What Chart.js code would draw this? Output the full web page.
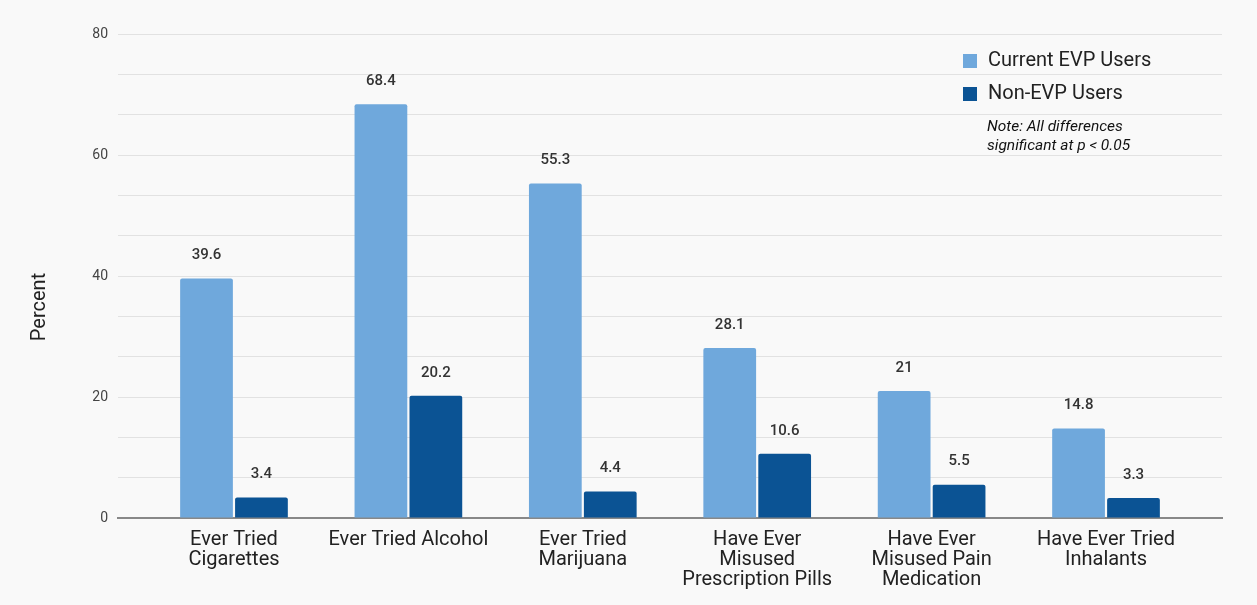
<!DOCTYPE html>
<html>
<head>
<meta charset="utf-8">
<script src="https://cdn.jsdelivr.net/npm/chart.js@4.4.1/dist/chart.umd.min.js"></script>
<style>
  html, body { margin: 0; padding: 0; background: #f9f9f9; }
  #wrap { width: 1257px; height: 605px; }
</style>
</head>
<body>
<div id="wrap"><canvas id="chart" width="1257" height="605"></canvas></div>
<script>
// chart data
var categories = [
	["Ever Tried", "Cigarettes"],
	["Ever Tried Alcohol"],
	["Ever Tried", "Marijuana"],
	["Have Ever", "Misused", "Prescription Pills"],
	["Have Ever", "Misused Pain", "Medication"],
	["Have Ever Tried", "Inhalants"]
];
var seriesNames = ["Current EVP Users", "Non-EVP Users"];
var currentEvp = [39.6, 68.4, 55.3, 28.1, 21, 14.8];
var nonEvp = [3.4, 20.2, 4.4, 10.6, 5.5, 3.3];
var yTicks = [0, 20, 40, 60, 80];
var noteLines = ["Note: All differences", "significant at p < 0.05"];

var colLight = "#6fa8dc";
var colDark = "#0b5394";

function toPoints(arr){
	return arr.map(function(v, i){ return { x: i, y: v }; });
}

var bgPlugin = {
	id: 'bg',
	beforeDraw: function(chart){
		var ctx = chart.ctx;
		ctx.save();
		ctx.fillStyle = "#f9f9f9";
		ctx.fillRect(0, 0, chart.width, chart.height);
		ctx.restore();
	}
};

// value labels above each bar
var valuePlugin = {
	id: 'values',
	afterDatasetsDraw: function(chart){
		var ctx = chart.ctx;
		ctx.save();
		ctx.font = "500 15px Roboto";
		ctx.fillStyle = "#333";
		ctx.textAlign = "center";
		ctx.textBaseline = "middle";
		chart.data.datasets.forEach(function(ds, i){
			chart.getDatasetMeta(i).data.forEach(function(bar, j){
				ctx.fillText(String(ds.data[j].y), bar.x, bar.y - 23);
			});
		});
		ctx.restore();
	}
};

// legend + note in top right, axis title
var extrasPlugin = {
	id: 'extras',
	afterDraw: function(chart){
		var ctx = chart.ctx;
		ctx.save();
		var lx = 963, ly = [61, 94];
		chart.data.datasets.forEach(function(ds, i){
			ctx.fillStyle = ds.backgroundColor;
			ctx.fillRect(lx, ly[i] - 7, 14, 14);
			ctx.fillStyle = "#222";
			ctx.font = "20px Roboto";
			ctx.textAlign = "left";
			ctx.textBaseline = "middle";
			ctx.fillText(ds.label, 988, ly[i]);
		});
		ctx.font = "italic 15.5px Roboto";
		ctx.fillStyle = "#111";
		noteLines.forEach(function(t, k){
			ctx.fillText(t, 987, 127 + k * 19);
		});
		ctx.translate(40, 307);
		ctx.rotate(-Math.PI / 2);
		ctx.textAlign = "center";
		ctx.font = "20px Roboto";
		ctx.fillStyle = "#222";
		ctx.fillText("Percent", 0, 0);
		ctx.restore();
	}
};

var chart = new Chart(document.getElementById('chart'), {
	type: 'bar',
	data: {
		datasets: [
			{ label: seriesNames[0], data: toPoints(currentEvp), backgroundColor: colLight, borderRadius: 2, borderSkipped: 'bottom' },
			{ label: seriesNames[1], data: toPoints(nonEvp), backgroundColor: colDark, borderRadius: 2, borderSkipped: 'bottom' }
		]
	},
	options: {
		responsive: false,
		animation: false,
		categoryPercentage: 0.63,
		barPercentage: 0.96,
		layout: { padding: { left: 0, right: 35, top: 34, bottom: 0 } },
		plugins: {
			legend: { display: false },
			tooltip: { enabled: false }
		},
		scales: {
			x: {
				type: 'linear',
				min: -0.665,
				max: categories.length - 1 + 0.665,
				offset: false,
				grid: { display: false },
				border: { color: "#888", width: 2 },
				afterBuildTicks: function(scale){
					scale.ticks = categories.map(function(c, i){ return { value: i }; });
				},
				ticks: {
					color: "#222",
					font: { family: "Roboto", size: 20, lineHeight: 1.0 },
					maxRotation: 0,
					autoSkip: false,
					padding: 4,
					callback: function(v){ return categories[v]; }
				},
				afterFit: function(scale){ scale.height = 87; }
			},
			y: {
				min: 0,
				max: 80,
				ticks: {
					stepSize: 20 / 3,
					color: "#444",
					font: { family: "Roboto", size: 14 },
					padding: 10,
					callback: function(v){
						var r = Math.round(v);
						return (Math.abs(v - r) < 1e-6 && yTicks.indexOf(r) >= 0) ? r : '';
					}
				},
				grid: { color: "#e2e2e2", lineWidth: 1, drawTicks: false },
				border: { display: false },
				afterFit: function(scale){ scale.width = 118; }
			}
		}
	},
	plugins: [bgPlugin, valuePlugin, extrasPlugin]
});
</script>
</body>
</html>
